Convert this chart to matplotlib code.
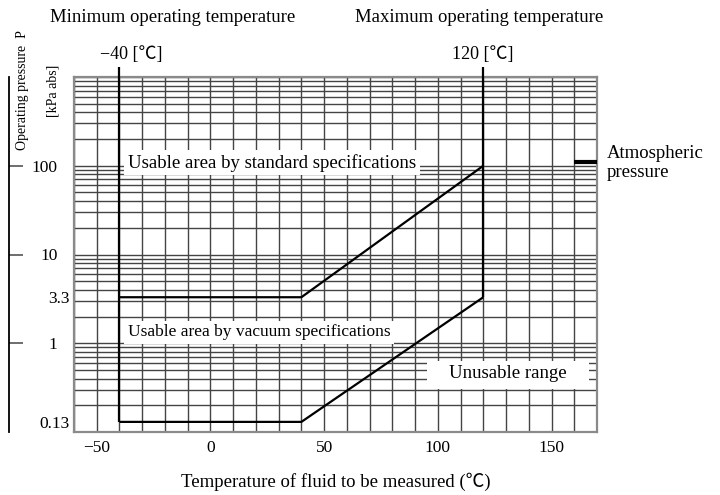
import matplotlib
matplotlib.use("Agg")
import matplotlib.pyplot as plt
import matplotlib.transforms as mtransforms
from matplotlib.patches import Rectangle
from matplotlib.ticker import NullFormatter, NullLocator

plt.rcParams["font.family"] = ["Liberation Serif", "Noto Sans CJK JP"]
plt.rcParams["font.size"] = 13.5
plt.rcParams["axes.unicode_minus"] = True

# ── data ────────────────────────────────────────────────────────────────
temp_lim = (-60, 170)
pres_lim = (0.1, 1000)
x_ticks = [-50, 0, 50, 100, 150]
y_major = [1, 10, 100]
y_minor = [0.13, 3.3]

t_min, t_max = -40, 120          # operating temperature limits
std_temps = [-40, 40, 120]       # upper edge (standard specs)
std_pres = [3.3, 3.3, 100]
vac_temps = [-40, 40, 120]       # lower edge (vacuum specs)
vac_pres = [0.13, 0.13, 3.3]
line_top = 1300                  # limit lines stick out above the grid
atm_temps = [160, 170]
atm_pres = 110

GRID = "#444444"
W, H = 720, 495

fig = plt.figure(figsize=(7.2, 4.95), dpi=100)
ax = fig.add_axes([74 / W, 1 - 432 / H, (597 - 74) / W, (432 - 77) / H])
ax.set_yscale("log")
ax.set_xlim(*temp_lim)
ax.set_ylim(*pres_lim)

# log-paper style grid
xs = list(range(temp_lim[0], temp_lim[1] + 1, 10))
ys = [m * 10 ** e for e in range(-1, 3) for m in range(1, 10)] + [1000]
ax.vlines(xs, *pres_lim, color=GRID, lw=1.0, zorder=1)
ax.hlines(ys, *temp_lim, color=GRID, lw=1.0, zorder=1)

for s in ax.spines.values():
    s.set_color("#8a8a8a")
    s.set_linewidth(1.6)

ax.set_xticks(x_ticks)
ax.tick_params(axis="x", length=0, pad=5.5, labelsize=12.5)
ax.set_yticks(y_major, labels=[str(v) for v in y_major])
ax.set_yticks(y_minor, labels=[str(v) for v in y_minor], minor=True)
ax.tick_params(axis="y", which="major", length=0, pad=12, labelsize=12.5)
ax.tick_params(axis="y", which="minor", length=0, pad=3, labelsize=12.5)
ax.set_xlabel("Temperature of fluid to be measured (℃)", labelpad=12)

# outer pressure scale line
sec = ax.secondary_yaxis(-65 / 523)
sec.set_yticks(y_major)
sec.yaxis.set_major_formatter(NullFormatter())
sec.yaxis.set_minor_locator(NullLocator())
sec.tick_params(direction="in", length=10, width=1.2, color="#555555")
sec.spines["left"].set_linewidth(1.3)

# usable area boundary
kw = dict(color="black", lw=1.6, zorder=5, clip_on=False, solid_capstyle="butt")
ax.plot([t_min, t_min], [vac_pres[0], line_top], **kw)
ax.plot([t_max, t_max], [vac_pres[-1], line_top], **kw)
ax.plot(std_temps, std_pres, **kw)
ax.plot(vac_temps, vac_pres, **kw)

# atmospheric pressure marker
ax.plot(atm_temps, [atm_pres, atm_pres], color="black", lw=3, zorder=5,
        clip_on=False, solid_capstyle="butt")
fig.text(607 / W, 1 - 163 / H, "Atmospheric\npressure", ha="left", va="center",
         linespacing=1.1)

# area labels
box = dict(boxstyle="square,pad=0.2", fc="white", ec="none")
ax.text(-36.4, 108, "Usable area by standard specifications", va="center",
        ha="left", bbox=box, zorder=3)
ax.text(-36.4, 1.33, "Usable area by vacuum specifications", va="center",
        ha="left", bbox=box, zorder=3, fontsize=12.5)
ax.add_patch(Rectangle((95.2, 0.303), 71.5, 0.627 - 0.303, fc="white",
                       ec="none", zorder=3))
ax.text(130.8, 0.46, "Unusable range", ha="center", va="center", zorder=4)

# headings
fig.text(50 / W, 1 - 18 / H, "Minimum operating temperature", ha="left", va="center")
fig.text(355 / W, 1 - 18 / H, "Maximum operating temperature", ha="left", va="center")
trans = mtransforms.blended_transform_factory(ax.transData, ax.transAxes)
ax.annotate("−40 [℃]", xy=(t_min, 1), xycoords=trans, xytext=(-19, 22),
            textcoords="offset pixels", ha="left", va="center", fontsize=13)
ax.annotate("120 [℃]", xy=(t_max, 1), xycoords=trans, xytext=(-31, 22),
            textcoords="offset pixels", ha="left", va="center", fontsize=13)

fig.text(23 / W, 1 - 90 / H, "Operating pressure  P", rotation=90, ha="center",
         va="center", fontsize=10)
fig.text(53 / W, 1 - 91 / H, "[kPa abs]", rotation=90, ha="center", va="center",
         fontsize=10)

fig.savefig("out.png", dpi=100)
